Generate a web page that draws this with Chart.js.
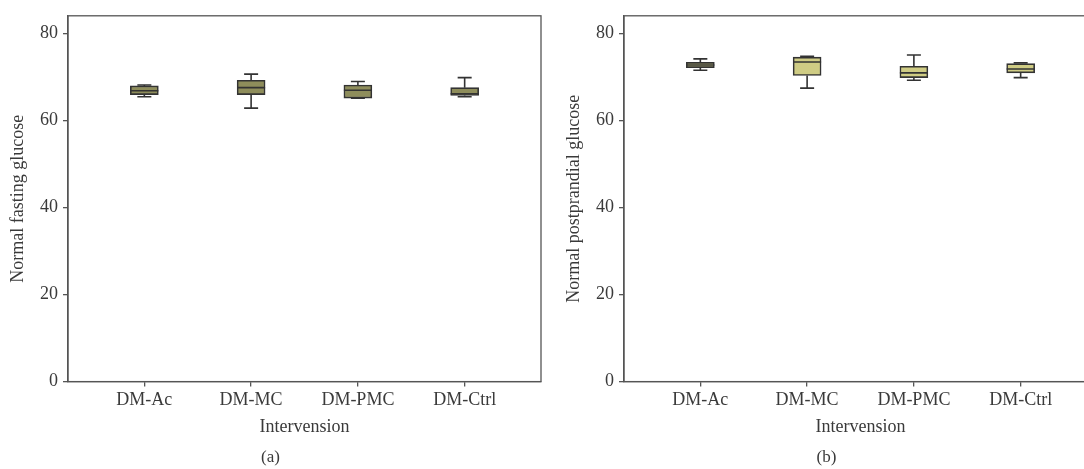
<!DOCTYPE html>
<html lang="en">
<head>
    <meta charset="UTF-8">
    <title>Glucose by intervention</title>
    <script src="https://cdn.jsdelivr.net/npm/chart.js"></script>
    <style>
        html, body { margin: 0; padding: 0; background: #fff; overflow: hidden; }
        body { width: 1084px; height: 469px; position: relative; }
        /* each panel gets its own canvas, panel (b) runs past the right edge like the original */
        .panel { position: absolute; top: 0; width: 560px; height: 469px; }
        #panelA { left: 0; }
        #panelB { left: 556px; }
    </style>
</head>
<body>
<div class="panel" id="panelA"><canvas id="chartA"></canvas></div>
<div class="panel" id="panelB"><canvas id="chartB"></canvas></div>

<script>
    // categories on the x axis
    const categories = ['DM-Ac', 'DM-MC', 'DM-PMC', 'DM-Ctrl'];
    const yTicks = [0, 20, 40, 60, 80];

    // (a) normal fasting glucose: whisker low, Q1, median, Q3, whisker high
    const fastMin = [65.4, 62.8, 65.1, 65.4];
    const fastQ1  = [65.9, 65.9, 65.1, 65.7];
    const fastMed = [66.8, 67.5, 66.9, 66.1];
    const fastQ3  = [67.9, 69.2, 68.1, 67.5];
    const fastMax = [68.1, 70.6, 68.9, 69.8];

    // (b) normal postprandial glucose
    const postMin = [71.5, 67.4, 69.2, 69.8];
    const postQ1  = [72.1, 70.3, 69.8, 70.9];
    const postMed = [72.7, 73.4, 70.9, 71.8];
    const postQ3  = [73.3, 74.5, 72.4, 73.0];
    const postMax = [74.1, 74.7, 75.0, 73.2];

    const axisColor = '#555';
    const textColor = '#3a3a3a';
    const serif = '"Liberation Serif", "Times New Roman", serif';

    // draws whiskers, caps and the median line on top of the floating bars
    const boxPlotExtras = {
        id: 'boxPlotExtras',
        afterDatasetsDraw(chart, args, opts) {
            const ctx = chart.ctx;
            const x = chart.scales.x, y = chart.scales.y;
            const half = opts.boxWidth / 2, capHalf = opts.boxWidth / 4;
            ctx.save();
            ctx.strokeStyle = '#333';
            ctx.lineWidth = 1.6;
            opts.mins.forEach((mn, i) => {
                const px = x.getPixelForValue(i);
                const yMin = y.getPixelForValue(mn), yQ1 = y.getPixelForValue(opts.q1[i]);
                const yQ3 = y.getPixelForValue(opts.q3[i]), yMax = y.getPixelForValue(opts.maxs[i]);
                const yMed = y.getPixelForValue(opts.meds[i]);
                ctx.beginPath();
                // whiskers
                ctx.moveTo(px, yQ3); ctx.lineTo(px, yMax);
                ctx.moveTo(px, yQ1); ctx.lineTo(px, yMin);
                // caps
                ctx.moveTo(px - capHalf, yMax); ctx.lineTo(px + capHalf, yMax);
                ctx.moveTo(px - capHalf, yMin); ctx.lineTo(px + capHalf, yMin);
                // median
                ctx.moveTo(px - half, yMed); ctx.lineTo(px + half, yMed);
                ctx.stroke();
            });
            ctx.restore();
        }
    };

    // box frame around the plot area (top and right sides)
    const frame = {
        id: 'frame',
        afterDraw(chart) {
            const a = chart.chartArea, ctx = chart.ctx;
            ctx.save();
            ctx.strokeStyle = axisColor;
            ctx.lineWidth = 1.3;
            ctx.strokeRect(a.left, a.top, a.right - a.left, a.bottom - a.top);
            ctx.restore();
        }
    };

    function makePanel(canvasId, mins, q1, meds, q3, maxs, fill, yTitle, letter) {
        const ctx = document.getElementById(canvasId).getContext('2d');
        return new Chart(ctx, {
            type: 'bar',
            data: {
                datasets: [{
                    data: categories.map((c, i) => ({ x: i, y: [q1[i], q3[i]] })),
                    backgroundColor: fill,
                    borderColor: '#333',
                    borderWidth: 1.6,
                    borderSkipped: false,
                    barThickness: 28
                }]
            },
            options: {
                responsive: true,
                maintainAspectRatio: false,
                animation: false,
                layout: { padding: { top: 14, right: 19, left: 0, bottom: 0 } },
                scales: {
                    x: {
                        type: 'linear',
                        min: -0.715,
                        max: 3.715,
                        offset: false,
                        afterFit: s => { s.height = 58; },
                        afterBuildTicks: s => { s.ticks = categories.map((c, i) => ({ value: i })); },
                        ticks: {
                            autoSkip: false,
                            maxRotation: 0,
                            padding: 3,
                            color: textColor,
                            font: { family: serif, size: 18 },
                            callback: v => categories[v]
                        },
                        grid: { offset: false, drawOnChartArea: false, drawTicks: true, tickLength: 5, color: axisColor, lineWidth: 1.3 },
                        border: { display: true, color: axisColor, width: 1.3 },
                        title: {
                            display: true,
                            text: 'Intervension',
                            color: textColor,
                            font: { family: serif, size: 18 },
                            padding: { top: 0, bottom: 2 }
                        }
                    },
                    y: {
                        min: 0,
                        max: 84,
                        afterFit: s => { s.width = 68; },
                        afterBuildTicks: s => { s.ticks = yTicks.map(v => ({ value: v })); },
                        ticks: {
                            padding: 5,
                            color: textColor,
                            font: { family: serif, size: 18 }
                        },
                        grid: { offset: false, drawOnChartArea: false, drawTicks: true, tickLength: 5, color: axisColor, lineWidth: 1.3 },
                        border: { display: true, color: axisColor, width: 1.3 },
                        title: {
                            display: true,
                            text: yTitle,
                            color: textColor,
                            font: { family: serif, size: 18 },
                            padding: { top: 7, bottom: 0 }
                        }
                    }
                },
                plugins: {
                    legend: { display: false },
                    tooltip: { enabled: false },
                    title: {
                        display: true,
                        position: 'bottom',
                        text: letter,
                        color: textColor,
                        font: { family: serif, size: 17, weight: 'normal' },
                        padding: { top: 8, bottom: 1 }
                    },
                    boxPlotExtras: { mins, q1, meds, q3, maxs, boxWidth: 28 }
                }
            },
            plugins: [boxPlotExtras, frame]
        });
    }

    makePanel('chartA', fastMin, fastQ1, fastMed, fastQ3, fastMax, '#8e8d5b', 'Normal fasting glucose', '(a)');
    makePanel('chartB', postMin, postQ1, postMed, postQ3, postMax, '#cfcc84', 'Normal postprandial glucose', '(b)');
</script>
</body>
</html>
